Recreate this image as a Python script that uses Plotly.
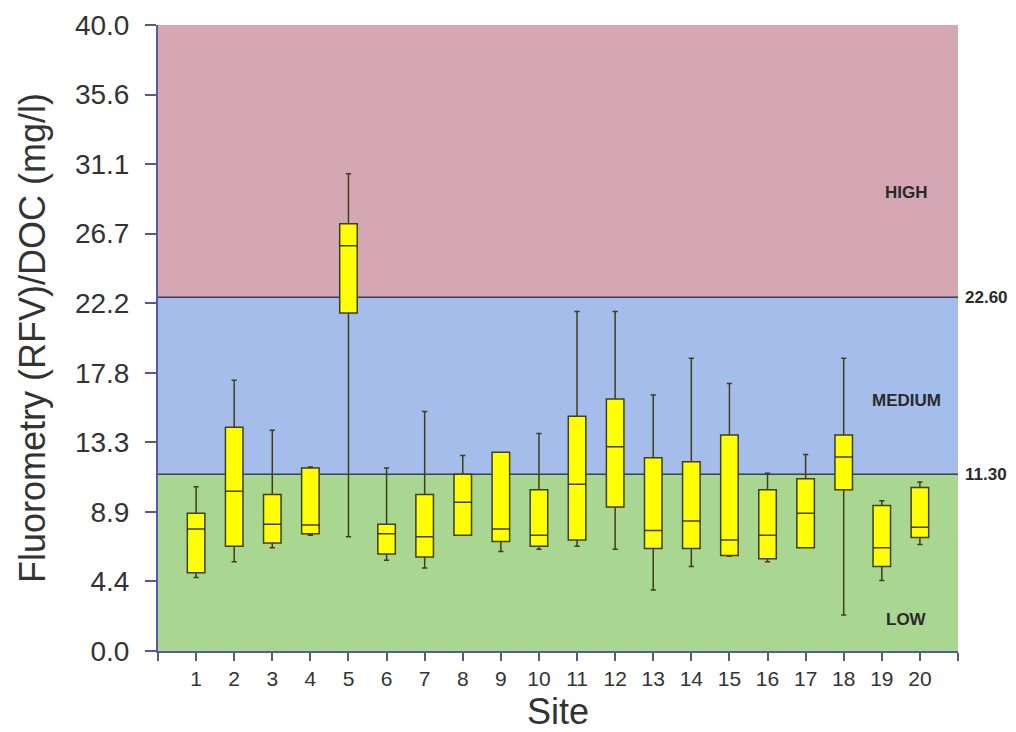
import plotly.graph_objects as go

sites = list(range(1, 21))
upper = [10.5, 17.3, 14.1, 11.75, 30.5, 11.7, 15.3, 12.5, 12.7, 13.9, 21.7, 21.7, 16.35, 18.7, 17.1, 11.35, 12.55, 18.7, 9.6, 10.8]
q3 = [8.8, 14.3, 10.0, 11.7, 27.3, 8.1, 10.0, 11.3, 12.7, 10.3, 15.0, 16.1, 12.35, 12.1, 13.8, 10.3, 11.0, 13.8, 9.3, 10.45]
median = [7.8, 10.2, 8.1, 8.05, 25.9, 7.5, 7.3, 9.5, 7.8, 7.4, 10.65, 13.05, 7.7, 8.3, 7.1, 7.4, 8.8, 12.4, 6.6, 7.9]
q1 = [5.0, 6.7, 6.9, 7.5, 21.6, 6.2, 6.0, 7.4, 7.0, 6.7, 7.1, 9.2, 6.55, 6.55, 6.1, 5.9, 6.6, 10.3, 5.4, 7.25]
lower = [4.7, 5.7, 6.6, 7.4, 7.3, 5.8, 5.3, 7.4, 6.35, 6.5, 6.7, 6.5, 3.9, 5.4, 6.05, 5.7, 6.6, 2.3, 4.5, 6.8]

ytick_vals = [0, 40/9, 80/9, 120/9, 160/9, 200/9, 240/9, 280/9, 320/9, 40]
ytick_text = ["0.0", "4.4", "8.9", "13.3", "17.8", "22.2", "26.7", "31.1", "35.6", "40.0"]
xtick_vals = list(range(0, 22))
xtick_text = [""] + [str(s) for s in sites] + [""]

thresholds = [11.3, 22.6]
threshold_labels = ["11.30", "22.60"]
zones = [("LOW", 0, 11.3, "#a9d690", 2.0), ("MEDIUM", 11.3, 22.6, "#a5bdea", 16.0),
         ("HIGH", 22.6, 40, "#d5a7b5", 29.3)]

FONT = "Liberation Sans, Arial, sans-serif"

fig = go.Figure()
fig.add_trace(go.Box(
    x=sites, q1=q1, median=median, q3=q3, lowerfence=lower, upperfence=upper,
    fillcolor="#ffff00", line=dict(color="#3f3f18", width=1.5),
    width=0.46, whiskerwidth=0.3, boxpoints=False, showlegend=False,
    hoverinfo="skip",
))

shapes = []
annotations = []
for name, y0, y1, col, ylab in zones:
    shapes.append(dict(type="rect", xref="paper", yref="y", x0=0, x1=1, y0=y0, y1=y1,
                       fillcolor=col, line=dict(width=0), layer="below"))
    annotations.append(dict(x=19.65, y=ylab, xref="x", yref="y", text="<b>%s</b>" % name,
                            showarrow=False, font=dict(size=17, color="#2a2a2a", family=FONT)))
for t, lab in zip(thresholds, threshold_labels):
    shapes.append(dict(type="line", xref="paper", yref="y", x0=0, x1=1, y0=t, y1=t,
                       line=dict(color="#3a3f55", width=1.5), layer="below"))
    annotations.append(dict(x=1.006, y=t, xref="paper", yref="y", text="<b>%s</b>" % lab,
                            showarrow=False, xanchor="left",
                            font=dict(size=17, color="#2a2a2a", family=FONT)))

fig.update_layout(
    width=1008, height=724,
    margin=dict(l=150, r=58, t=17, b=81),
    paper_bgcolor="white", plot_bgcolor="white",
    shapes=shapes, annotations=annotations,
    font=dict(family=FONT, color="#333333"),
    xaxis=dict(range=[0, 21], tickvals=xtick_vals, ticktext=xtick_text,
               ticks="outside", ticklen=8, tickcolor="#5a5a8a", tickwidth=1.5,
               automargin=False,
               showline=True, linecolor="#5a5a9a", linewidth=2, showgrid=False, zeroline=False,
               tickfont=dict(size=21, color="#333333"),
               title=dict(text="Site", font=dict(size=36, color="#333333"), standoff=11)),
    yaxis=dict(range=[0, 40], tickvals=ytick_vals, ticktext=ytick_text,
               ticks="outside", ticklen=11, tickcolor="#5a5a8a", tickwidth=1.5,
               ticklabelstandoff=10, automargin=False,
               showline=True, linecolor="#5a5a9a", linewidth=2, showgrid=False, zeroline=False,
               tickfont=dict(size=28, color="#333333"),
               title=dict(text="Fluorometry (RFV)/DOC (mg/l)", font=dict(size=36, color="#333333"), standoff=18)),
)

fig.write_html("out.html")
